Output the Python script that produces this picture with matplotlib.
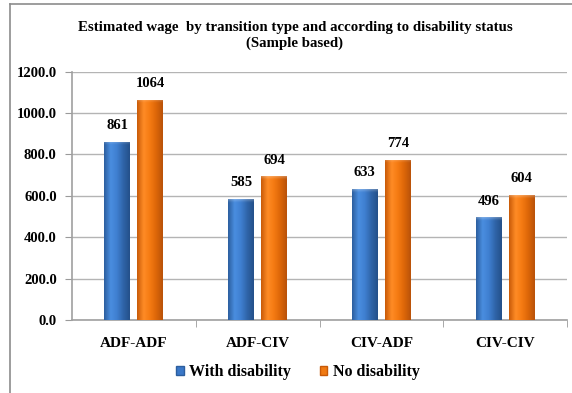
import numpy as np
import matplotlib
matplotlib.use("Agg")
import matplotlib.pyplot as plt
from matplotlib.colors import LinearSegmentedColormap
from matplotlib.lines import Line2D
from matplotlib.patches import Patch

categories = ["ADF-ADF", "ADF-CIV", "CIV-ADF", "CIV-CIV"]
with_disability = [861, 585, 633, 496]
no_disability = [1064, 694, 774, 604]
series_names = ["With disability", "No disability"]
y_ticks = [0, 200, 400, 600, 800, 1000, 1200]

plt.rcParams["font.family"] = ["Liberation Serif", "DejaVu Serif"]
plt.rcParams["font.weight"] = "bold"

fig = plt.figure(figsize=(5.72, 3.93), dpi=100)
fig.patch.set_facecolor("white")

# frame lines along top and left of the chart panel
fig.add_artist(Line2D([10 / 572, 10 / 572], [0, 1 - 4 / 393], transform=fig.transFigure,
                      color="#8c8c8c", lw=1.2))
fig.add_artist(Line2D([10 / 572, 1], [1 - 4 / 393, 1 - 4 / 393], transform=fig.transFigure,
                      color="#8c8c8c", lw=1.2))

ax = fig.add_axes([72 / 572, (393 - 320) / 393, 495 / 572, 248.5 / 393])

x = np.arange(len(categories))
width = 0.21
offset = 0.134

blue_cmap = LinearSegmentedColormap.from_list(
    "b", ["#2c5e9e", "#4a8ee0", "#3f7fd0", "#2f64a8", "#24508a"])
orange_cmap = LinearSegmentedColormap.from_list(
    "o", ["#c85a08", "#ff8c26", "#f57a12", "#dc6608", "#b9520a"])

# vertical white fade used as a soft highlight near each bar top
cap = np.zeros((32, 1, 4))
cap[..., :3] = 1.0
cap[:, 0, 3] = np.linspace(0.45, 0.0, 32) ** 1.5

def shaded_bars(xpos, vals, base, cmap):
    bars = ax.bar(xpos, vals, width, color=base, edgecolor="none", zorder=3)
    grad = np.linspace(0, 1, 64).reshape(1, -1)
    for b in bars:
        x0, w, h = b.get_x(), b.get_width(), b.get_height()
        im = ax.imshow(grad, cmap=cmap, aspect="auto", extent=[x0, x0 + w, 0, h],
                       zorder=3.5, interpolation="bicubic")
        im.set_clip_path(b)
        hl = ax.imshow(cap, aspect="auto", extent=[x0, x0 + w, h - 18, h],
                       zorder=4, interpolation="bilinear")
        hl.set_clip_path(b)
    return bars

b1 = shaded_bars(x - offset, with_disability, "#3a78c8", blue_cmap)
b2 = shaded_bars(x + offset, no_disability, "#f07a12", orange_cmap)

for bars, vals in ((b1, with_disability), (b2, no_disability)):
    for b, v in zip(bars, vals):
        ax.annotate(f"{v}", (b.get_x() + b.get_width() / 2, v), xytext=(0, 7),
                    textcoords="offset points", ha="center", va="bottom",
                    fontsize=10.5, fontweight="bold", color="black")

ax.set_xlim(-0.5, len(categories) - 0.5)
ax.set_ylim(0, 1200)
ax.set_yticks(y_ticks)
ax.set_yticklabels([f"{t:.1f}" for t in y_ticks])
ax.set_xticks(x)
ax.set_xticklabels(categories)
ax.set_xticks(np.arange(len(categories)) + 0.5, minor=True)

ax.tick_params(axis="x", which="major", length=0, pad=12, labelsize=11)
ax.tick_params(axis="x", which="minor", length=5, color="#9a9a9a", direction="out")
ax.tick_params(axis="y", length=5, color="#9a9a9a", pad=6, labelsize=10.5)
for lab in ax.get_xticklabels() + ax.get_yticklabels():
    lab.set_fontweight("bold")

ax.grid(axis="y", color="#b4b4b4", lw=1, zorder=0)
ax.set_axisbelow(True)
for s in ("top", "right"):
    ax.spines[s].set_visible(False)
for s in ("left", "bottom"):
    ax.spines[s].set_color("#a0a0a0")
    ax.spines[s].set_linewidth(1.2)

fig.text(295 / 572, 1 - 27 / 393, "Estimated wage  by transition type and according to disability status",
         ha="center", va="center", fontsize=10.7, fontweight="bold")
fig.text(295 / 572, 1 - 43 / 393, "(Sample based)",
         ha="center", va="center", fontsize=10.7, fontweight="bold")

handles = [Patch(facecolor="#3a78c8", edgecolor="#2c5e9e"),
           Patch(facecolor="#f07a12", edgecolor="#c85a08")]
leg = fig.legend(handles, series_names, loc="center", bbox_to_anchor=(298 / 572, 1 - 372 / 393),
                 ncol=2, frameon=False, handlelength=0.45, handleheight=0.45,
                 handletextpad=0.35, columnspacing=1.8, prop={"weight": "bold", "size": 11.5})

fig.savefig("out.png", dpi=100, facecolor="white")
